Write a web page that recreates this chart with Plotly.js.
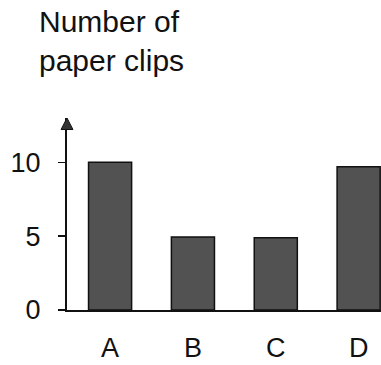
<!DOCTYPE html>
<html>
<head>
<meta charset="utf-8">
<script src="https://cdn.plot.ly/plotly-3.0.1.min.js"></script>
<style>html,body{margin:0;padding:0;background:#fff;}#chart{width:381px;height:365px;}</style>
</head>
<body>
<div id="chart"></div>
<script>
const categories = ["A", "B", "C", "D"];
const clips = [10, 4.95, 4.9, 9.7];
const tickValues = [0, 5, 10];
const tickLabels = ["0", "5", "10"];
const yTitle = "Number of<br>paper clips";

const font = "Liberation Sans, Arial, Helvetica, sans-serif";

const trace = {
  type: "bar",
  x: categories,
  y: clips,
  width: 0.52,
  marker: { color: "#525252", line: { color: "#111111", width: 1.5 } },
  hoverinfo: "none"
};

const layout = {
  width: 381,
  height: 365,
  margin: { l: 67, r: 0, t: 118, b: 55 },
  paper_bgcolor: "#ffffff",
  plot_bgcolor: "#ffffff",
  showlegend: false,
  font: { family: font, color: "#111111", size: 27 },
  xaxis: {
    type: "category",
    range: [-0.52, 3.27],
    showline: true, linecolor: "#111111", linewidth: 1.6,
    showgrid: false, zeroline: false,
    ticks: "", ticklabelstandoff: 13,
    tickfont: { family: font, size: 27, color: "#111111" },
    fixedrange: true
  },
  yaxis: {
    range: [0, 13],
    showline: true, linecolor: "#111111", linewidth: 2,
    showgrid: false, zeroline: false,
    tickvals: tickValues, ticktext: tickLabels,
    ticks: "outside", ticklen: 7, tickwidth: 1.5, tickcolor: "#111111",
    ticklabelstandoff: 12,
    tickfont: { family: font, size: 27, color: "#111111" },
    fixedrange: true
  },
  annotations: [{
    text: yTitle,
    xref: "paper", yref: "paper",
    x: -0.096, xanchor: "left",
    y: 1.60, yanchor: "top",
    align: "left", showarrow: false,
    font: { family: font, size: 30, color: "#111111" }
  }],
  shapes: [{
    type: "path", xref: "paper", yref: "paper",
    path: "M -0.019 0.94 L 0 1.0 L 0.019 0.94 Z",
    fillcolor: "#333333", line: { color: "#111111", width: 1 }
  }]
};

Plotly.newPlot("chart", [trace], layout, { displayModeBar: false, staticPlot: true });
</script>
</body>
</html>
